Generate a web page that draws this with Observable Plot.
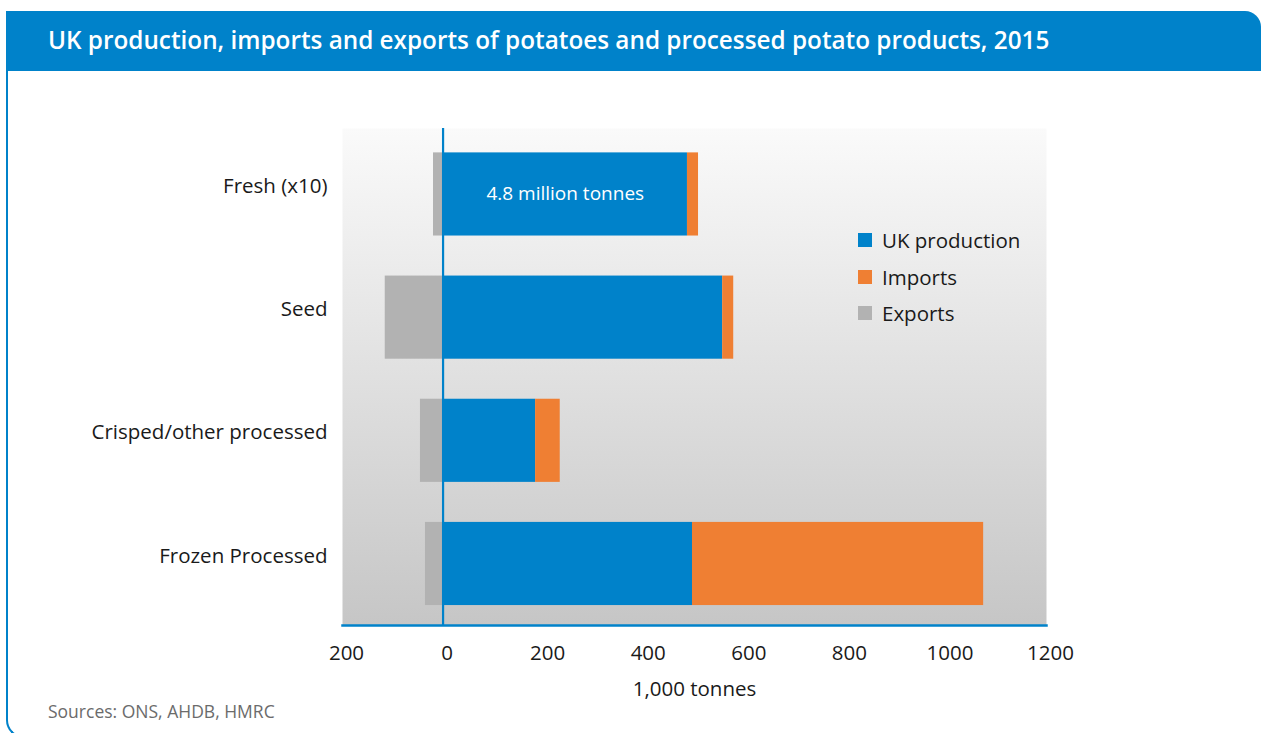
<!DOCTYPE html>
<html>
<head>
<meta charset="utf-8">
<script src="https://cdn.jsdelivr.net/npm/d3@7"></script>
<script src="https://cdn.jsdelivr.net/npm/@observablehq/plot@0.6"></script>
<style>
  html, body { margin: 0; padding: 0; background: #fff; overflow: hidden; }
  body { width: 1261px; height: 733px; position: relative; font-family: "Open Sans", "Noto Sans", sans-serif; }
  #frame { position: absolute; left: 6px; top: 11px; width: 1300px; height: 727px;
           border-left: 2px solid #0082ca; border-bottom: 2px solid #0082ca;
           border-bottom-left-radius: 18px; box-sizing: border-box; }
  #titlebar { position: absolute; left: 6px; top: 11px; width: 1255px; height: 60px;
              background: #0082ca; border-top-right-radius: 16px; }
  #title { position: absolute; left: 48px; top: 11px; height: 60px; line-height: 58px;
           color: #fff; font-size: 24.3px; font-weight: 600; white-space: nowrap; }
  #chart { position: absolute; left: 0; top: 100px; }
  #legend { position: absolute; left: 858px; top: 225px; font-size: 20.5px; color: #1a1a1a; }
  .li { position: absolute; left: 0; white-space: nowrap; height: 30px; line-height: 30px; }
  .sw { position: absolute; left: 0; top: 8px; width: 14px; height: 14px; }
  .lt { position: absolute; left: 24px; top: 0; }
  #source { position: absolute; left: 48px; top: 699px; font-size: 17.5px; color: #6b6b6b; white-space: nowrap; }
</style>
</head>
<body>
<div id="frame"></div>
<div id="titlebar"></div>
<div id="title">UK production, imports and exports of potatoes and processed potato products, 2015</div>
<div id="chart"></div>
<div id="legend"></div>
<div id="source">Sources: ONS, AHDB, HMRC</div>
<script>
// ---- data (1,000 tonnes; Fresh shown x10 scaled down) ----
const categories = ["Fresh (x10)", "Seed", "Crisped/other processed", "Frozen Processed"];
const production = [486, 556, 184, 496];
const imports    = [22, 22, 49, 579];
const exports    = [19, 115, 45, 35];
const seriesNames = ["UK production", "Imports", "Exports"];
const seriesColors = ["#0082ca", "#ef7f33", "#b2b2b2"];
const xTicks = [-200, 0, 200, 400, 600, 800, 1000, 1200];
const annotationText = ["4.8 million tonnes"];
const annotationCategory = ["Fresh (x10)"];
const axisTitle = "1,000 tonnes";

// long table for stacking
const rows = [];
categories.forEach((c, i) => {
  rows.push({cat: c, series: "UK production", value: production[i]});
  rows.push({cat: c, series: "Imports", value: imports[i]});
  rows.push({cat: c, series: "Exports", value: -exports[i]});
});
const annotations = annotationText.map((t, i) => ({
  text: t, cat: annotationCategory[i],
  x: production[categories.indexOf(annotationCategory[i])] / 2
}));

const blue = seriesColors[0];
const fontStack = '"Open Sans", "Noto Sans", sans-serif';

const chart = Plot.plot({
  width: 1261,
  height: 620,
  marginLeft: 342,
  marginRight: 215,
  marginTop: 28,
  marginBottom: 95,
  style: {fontFamily: fontStack, fontSize: "20px", color: "#1a1a1a", background: "transparent", overflow: "visible"},
  x: {domain: [-200, 1200], ticks: xTicks, tickFormat: d => String(Math.abs(d))},
  y: {domain: categories, paddingInner: 0.325, paddingOuter: 0.18, align: 0.55, round: false},
  color: {domain: seriesNames, range: seriesColors},
  marks: [
    Plot.frame({fill: "url(#bggrad)", stroke: "none"}),
    Plot.barX(rows, Plot.stackX({x: "value", y: "cat", fill: "series", order: seriesNames})),
    Plot.ruleX([0], {stroke: blue, strokeWidth: 2.2}),
    Plot.frame({anchor: "bottom", stroke: blue, strokeWidth: 2.5}),
    Plot.text(annotations, {x: "x", y: "cat", text: "text", fill: "#fff", fontSize: 19, dy: -1}),
    Plot.axisX({ticks: xTicks, tickFormat: d => String(Math.abs(d)), tickSize: 0, tickPadding: 20, fontSize: 20.5, label: null, dx: 4}),
    Plot.axisY({tickSize: 0, tickPadding: 15, fontSize: 20.5, label: null, dy: -8}),
    Plot.text([axisTitle], {frameAnchor: "bottom", dy: 70, fontSize: 20.5, fill: "#1a1a1a", text: d => d})
  ]
});
chart.insertAdjacentHTML("afterbegin",
  '<defs><linearGradient id="bggrad" x1="0" y1="0" x2="0" y2="1">' +
  '<stop offset="0" stop-color="#fafafa"/><stop offset="1" stop-color="#c6c6c6"/>' +
  '</linearGradient></defs>');
document.getElementById("chart").appendChild(chart);

// legend
const legend = document.getElementById("legend");
const legendTops = [0, 37, 73];
seriesNames.forEach((s, i) => {
  const d = document.createElement("div");
  d.className = "li";
  d.style.top = legendTops[i] + "px";
  d.innerHTML = `<span class="sw" style="background:${seriesColors[i]}"></span><span class="lt">${s}</span>`;
  legend.appendChild(d);
});
</script>
</body>
</html>
